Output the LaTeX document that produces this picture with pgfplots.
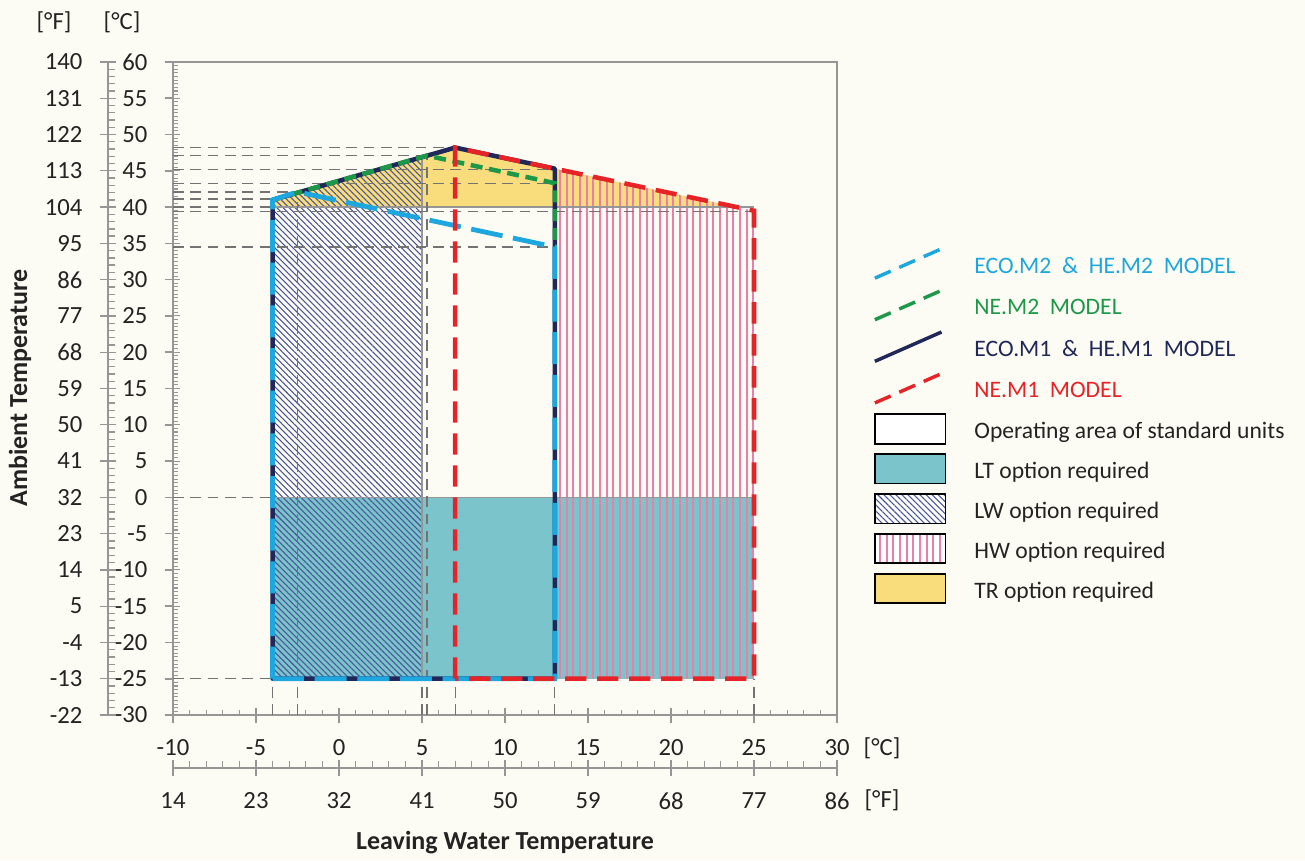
\documentclass[border=0pt]{standalone}
\usepackage{pgfplots}
\pgfplotsset{compat=1.18}
\usepackage{fontspec}
\setmainfont{Carlito}
\usetikzlibrary{patterns.meta}
\definecolor{bgcream}{RGB}{253,252,244}
\definecolor{axisgray}{RGB}{150,150,150}
\definecolor{refgray}{RGB}{115,115,115}
\definecolor{labelgray}{RGB}{35,35,35}
\definecolor{ltteal}{RGB}{124,196,204}
\definecolor{tryellow}{RGB}{249,221,124}
\definecolor{lwhatch}{RGB}{72,84,150}
\definecolor{hwpink}{RGB}{234,128,168}
\definecolor{ecomtwo}{RGB}{30,166,222}
\definecolor{nemtwo}{RGB}{28,152,72}
\definecolor{ecomone}{RGB}{32,40,90}
\definecolor{nemone}{RGB}{230,36,40}
\tikzset{tlfont/.style={font=\fontsize{18.5}{20}\selectfont, text=labelgray}}
\pgfplotsset{
  refline/.style={forget plot, refgray, line width=1pt, dash pattern=on 8pt off 5pt},
}
\begin{document}
\begin{tikzpicture}[x=1pt,y=1pt]
\path[use as bounding box, fill=bgcream] (0,0) rectangle (978.75,645);

% minor ticks (inside) of the main box
\begin{axis}[
  at={(129.75pt,108.75pt)}, anchor=south west,
  scale only axis, width=498pt, height=489.75pt,
  xmin=-10, xmax=30, ymin=-30, ymax=60,
  axis line style={draw=none},
  xtick={-10,-5,...,30}, ytick={-30,-25,...,60},
  xticklabels={}, yticklabels={},
  xtick pos=bottom, ytick pos=left, tick align=inside,
  minor x tick num=4, minor y tick num=9,
  major tick length=5pt, minor tick length=4pt,
  tick style={draw=axisgray, line width=0.8pt},
]
\end{axis}

% main axis
\begin{axis}[
  at={(129.75pt,108.75pt)}, anchor=south west,
  scale only axis, width=498pt, height=489.75pt,
  xmin=-10, xmax=30, ymin=-30, ymax=60,
  axis line style={draw=axisgray, line width=1.2pt},
  xtick={-10,-5,...,30}, ytick={-30,-25,...,60},
  xticklabels={-10,-5,0,5,10,15,20,25,30},
  yticklabels={-30,-25,-20,-15,-10,-5,0,5,10,15,20,25,30,35,40,45,50,55,60},
  xtick pos=bottom, ytick pos=left,
  tick align=outside, major tick length=6pt,
  major tick style={draw=axisgray, line width=1.2pt},
  minor tick num=0,
  ticklabel style={tlfont, inner sep=0pt},
  xticklabel style={anchor=north, yshift=-12pt},
  yticklabel style={anchor=east, xshift=-13pt},
  legend style={at={(1.054,0.7170)}, anchor=north west, draw=none, fill=none,
    inner sep=0pt, row sep=6.6pt, column sep=19pt,
    font=\fontsize{17.7}{19}\selectfont, text=labelgray},
  legend cell align=left,
]
% LT option area
\addplot[forget plot, draw=none, fill=ltteal] coordinates {(-4,-25) (25,-25) (25,0) (-4,0)} -- cycle;
% TR option area
\addplot[forget plot, draw=none, fill=tryellow] coordinates {(-4,40) (-4,41) (7,48.2) (24,40)} -- cycle;
% LW option area
\addplot[forget plot, draw=none, pattern={Lines[angle=-45,distance=3.2pt,line width=0.8pt]}, pattern color=lwhatch]
  coordinates {(-4,-25) (-4,41) (5,46.9) (5,-25)} -- cycle;
% HW option area
\addplot[forget plot, draw=none, pattern={Lines[angle=90,distance=5pt,line width=1.4pt]}, pattern color=hwpink]
  coordinates {(13,-25) (13,45.3) (25,39.5) (25,-25)} -- cycle;
% thin boundaries
\addplot[forget plot, axisgray, line width=1pt] coordinates {(-4,40) (25,40)};
\addplot[forget plot, axisgray, line width=1pt] coordinates {(-4,0) (25,0)};
\addplot[forget plot, axisgray, line width=1pt] coordinates {(5,-25) (5,46.9)};
% reference dashed lines
\addplot[refline] coordinates {(-10,48.2) (7,48.2)};
\addplot[refline] coordinates {(-10,47.1) (5.3,47.1)};
\addplot[refline] coordinates {(-10,45.2) (13,45.2)};
\addplot[refline] coordinates {(-10,43.3) (13,43.3)};
\addplot[refline] coordinates {(-10,42.1) (-2.5,42.1)};
\addplot[refline] coordinates {(-10,41.1) (-4,41.1)};
\addplot[refline] coordinates {(-10,40) (-4,40)};
\addplot[refline] coordinates {(-10,39.4) (25,39.4)};
\addplot[refline] coordinates {(-10,34.5) (13,34.5)};
\addplot[refline] coordinates {(-10,0) (-4,0)};
\addplot[refline] coordinates {(-10,-25) (-4,-25)};
\addplot[refline] coordinates {(-4,-30) (-4,-25)};
\addplot[refline] coordinates {(-2.5,-30) (-2.5,42.1)};
\addplot[refline] coordinates {(5,-30) (5,-25)};
\addplot[refline] coordinates {(5.3,-30) (5.3,47.1)};
\addplot[refline] coordinates {(7,-30) (7,-25)};
\addplot[refline] coordinates {(13,-30) (13,-25)};
\addplot[refline] coordinates {(25,-30) (25,-25)};
% model envelopes
\addplot[forget plot, ecomone, line width=3.4pt, line join=round]
  coordinates {(-4,-25) (-4,41) (7,48.2) (13,45.3) (13,-25)} -- cycle;
\addplot[forget plot, nemtwo, line width=3.4pt, dash pattern=on 9pt off 5pt]
  coordinates {(-4,41) (5.3,47.1) (13,43.3) (13,34.5)};
\addplot[forget plot, ecomtwo, line width=3.6pt, dash pattern=on 24pt off 8pt]
  coordinates {(-4,-25) (-4,41) (-2.5,42.1) (13,34.5) (13,-25)} -- cycle;
\addplot[forget plot, nemone, line width=3.4pt, dash pattern=on 16pt off 8pt]
  coordinates {(7,-25) (7,48.2) (25,39.5) (25,-25)} -- cycle;

% legend
\addlegendimage{legend image code/.code={\draw[ecomtwo, line width=2.6pt, dash pattern=on 13pt off 7pt] (0pt,-9pt) -- (50pt,13pt);}}
\addlegendentry{\textcolor{ecomtwo}{ECO.M2\ \ \&\ \ HE.M2\ \ MODEL}}
\addlegendimage{legend image code/.code={\draw[nemtwo, line width=2.6pt, dash pattern=on 13pt off 7pt] (0pt,-9pt) -- (50pt,13pt);}}
\addlegendentry{\textcolor{nemtwo}{NE.M2\ \ MODEL}}
\addlegendimage{legend image code/.code={\draw[ecomone, line width=2.6pt] (0pt,-9pt) -- (50pt,13pt);}}
\addlegendentry{\textcolor{ecomone}{ECO.M1\ \ \&\ \ HE.M1\ \ MODEL}}
\addlegendimage{legend image code/.code={\draw[nemone, line width=2.6pt, dash pattern=on 13pt off 7pt] (0pt,-9pt) -- (50pt,13pt);}}
\addlegendentry{\textcolor{nemone}{NE.M1\ \ MODEL}}
\addlegendimage{legend image code/.code={\draw[black, line width=1.3pt, fill=white] (0pt,-9pt) rectangle (53pt,13pt);}}
\addlegendentry{Operating area of standard units}
\addlegendimage{legend image code/.code={\draw[black, line width=1.3pt, fill=ltteal] (0pt,-9pt) rectangle (53pt,13pt);}}
\addlegendentry{LT option required}
\addlegendimage{legend image code/.code={\draw[black, line width=1.3pt, fill=white, postaction={pattern={Lines[angle=-45,distance=3.2pt,line width=0.8pt]}, pattern color=lwhatch}] (0pt,-9pt) rectangle (53pt,13pt);}}
\addlegendentry{LW option required}
\addlegendimage{legend image code/.code={\draw[black, line width=1.3pt, fill=white, postaction={pattern={Lines[angle=90,distance=5pt,line width=1.4pt]}, pattern color=hwpink}] (0pt,-9pt) rectangle (53pt,13pt);}}
\addlegendentry{HW option required}
\addlegendimage{legend image code/.code={\draw[black, line width=1.3pt, fill=tryellow] (0pt,-9pt) rectangle (53pt,13pt);}}
\addlegendentry{TR option required}
\end{axis}

% left [°F] axis
\begin{axis}[
  at={(81pt,108.75pt)}, anchor=south west,
  scale only axis, width=10pt, height=489.75pt,
  xmin=0, xmax=1, ymin=-30, ymax=60,
  hide x axis, axis y line*=left,
  axis line style={draw=axisgray, line width=1.2pt, -},
  ytick={-30,-25,...,60},
  yticklabels={-22,-13,-4,5,14,23,32,41,50,59,68,77,86,95,104,113,122,131,140},
  tick align=center, major tick length=12pt,
  minor y tick num=4, minor tick length=5pt,
  minor tick style={xshift=2.5pt},
  tick style={draw=axisgray, line width=1pt},
  ticklabel style={tlfont, inner sep=0pt},
  yticklabel style={anchor=east, xshift=-13pt},
]
\end{axis}

% bottom [°F] axis
\begin{axis}[
  at={(129.75pt,69pt)}, anchor=south west,
  scale only axis, width=498pt, height=10pt,
  xmin=-10, xmax=30, ymin=0, ymax=1,
  hide y axis, axis x line*=bottom,
  axis line style={draw=axisgray, line width=1.2pt, -},
  xtick={-10,-5,...,30},
  xticklabels={14,23,32,41,50,59,68,77,86},
  tick align=center, major tick length=12pt,
  minor x tick num=4, minor tick length=5pt,
  minor tick style={yshift=2.5pt},
  tick style={draw=axisgray, line width=1pt},
  ticklabel style={tlfont, inner sep=0pt},
  xticklabel style={anchor=north, yshift=-12pt},
]
\end{axis}

% unit markers and axis titles
\node[tlfont] at (40.5,628.5) {[°F]};
\node[tlfont] at (91.5,628.5) {[°C]};
\node[tlfont] at (661.5,84) {[°C]};
\node[tlfont] at (661.5,45) {[°F]};
\node[rotate=90, font=\bfseries\fontsize{19.5}{21}\selectfont, text=labelgray] at (15,354) {Ambient Temperature};
\node[font=\bfseries\fontsize{19.5}{21}\selectfont, text=labelgray] at (378.75,12.75) {Leaving Water Temperature};
\end{tikzpicture}
\end{document}
